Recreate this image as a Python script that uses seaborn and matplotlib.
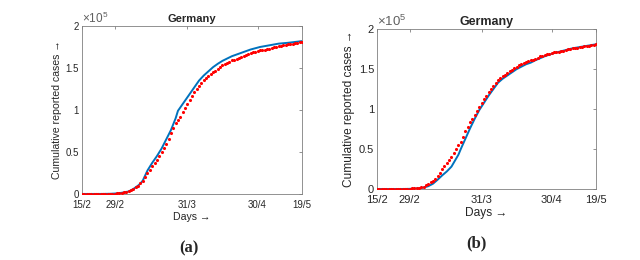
import matplotlib
matplotlib.use("Agg")
import matplotlib.pyplot as plt
import pandas as pd
import seaborn as sns

# Cumulative reported cases in Germany (units of 1e5), one value per day from 15/2 (day 0) to 19/5 (day 94)
reported = [0.0002, 0.0002, 0.0002, 0.0002, 0.0002, 0.0002, 0.0002, 0.0002, 0.0003, 0.0005,
            0.001, 0.0015, 0.002, 0.003, 0.005, 0.007, 0.010, 0.014, 0.019, 0.024,
            0.030, 0.045, 0.065, 0.082, 0.100, 0.125, 0.160, 0.200, 0.250, 0.290,
            0.330, 0.365, 0.400, 0.450, 0.500, 0.545, 0.590, 0.655, 0.720, 0.780,
            0.840, 0.880, 0.920, 0.970, 1.020, 1.070, 1.120, 1.165, 1.210, 1.250,
            1.290, 1.325, 1.360, 1.385, 1.410, 1.430, 1.450, 1.470, 1.490, 1.510,
            1.530, 1.545, 1.560, 1.575, 1.590, 1.600, 1.610, 1.620, 1.630, 1.645,
            1.660, 1.670, 1.680, 1.685, 1.690, 1.700, 1.710, 1.715, 1.720, 1.725,
            1.730, 1.740, 1.750, 1.755, 1.760, 1.765, 1.770, 1.775, 1.780, 1.785,
            1.790, 1.795, 1.800, 1.805, 1.810]
days = list(range(len(reported)))

# Model fit (a)
days_a = [0, 4, 8, 12, 14, 16, 18, 20, 22, 24, 25, 26, 27, 28, 30, 32, 34, 36, 38, 40,
          41, 42, 44, 46, 48, 50, 52, 54, 56, 58, 60, 64, 68, 72, 76, 80, 84, 88, 94]
fit_a = [0.0002, 0.0002, 0.0003, 0.002, 0.005, 0.010, 0.019, 0.030, 0.060, 0.100,
         0.125, 0.16, 0.22, 0.28, 0.37, 0.45, 0.54, 0.65, 0.76, 0.90,
         0.99, 1.03, 1.11, 1.19, 1.27, 1.35, 1.41, 1.46, 1.51, 1.55,
         1.585, 1.64, 1.68, 1.72, 1.75, 1.77, 1.79, 1.80, 1.82]

# Model fit (b)
days_b = [0, 4, 8, 12, 14, 16, 18, 20, 22, 24, 26, 28, 30, 32, 34, 35, 36, 38, 40, 42,
          44, 46, 48, 50, 52, 54, 56, 58, 60, 62, 64, 66, 68, 70, 72, 74, 76, 80, 84, 88, 94]
fit_b = [0.0, 0.0, 0.0, 0.001, 0.002, 0.005, 0.010, 0.018, 0.035, 0.065,
         0.115, 0.17, 0.22, 0.28, 0.38, 0.43, 0.50, 0.63, 0.76, 0.88,
         0.99, 1.08, 1.17, 1.25, 1.33, 1.38, 1.42, 1.46, 1.50, 1.53,
         1.56, 1.58, 1.61, 1.635, 1.66, 1.68, 1.70, 1.73, 1.76, 1.78, 1.81]

tick_days = [0, 14, 45, 75, 94]
tick_labels = ['15/2', '29/2', '31/3', '30/4', '19/5']
y_ticks = [0, 0.5, 1, 1.5, 2]
y_labels = ['0', '0.5', '1', '1.5', '2']

sns.set_style("white")
plt.rcParams['font.family'] = ['Liberation Sans', 'DejaVu Sans']
plt.rcParams['mathtext.fontset'] = 'custom'
plt.rcParams['mathtext.rm'] = 'Liberation Sans'

df_obs = pd.DataFrame({'day': days, 'cases': reported})
df_a = pd.DataFrame({'day': days_a, 'cases': fit_a})
df_b = pd.DataFrame({'day': days_b, 'cases': fit_b})

fig = plt.figure(figsize=(6.4, 2.6), dpi=100)
ax_a = fig.add_axes([0.128, 0.254, 0.344, 0.646])
ax_b = fig.add_axes([0.589, 0.273, 0.342, 0.615])

grey = '#262626'
# (axes, fit data, tick font size, label font size)
for ax, df_fit, fs, lfs in [(ax_a, df_a, 7, 7.6), (ax_b, df_b, 8, 8.6)]:
    sns.lineplot(data=df_fit, x='day', y='cases', ax=ax, color='#0072BD', linewidth=1.4)
    sns.scatterplot(data=df_obs, x='day', y='cases', ax=ax, color='#ff0000', s=5,
                    linewidth=0, zorder=3)
    ax.set_xlim(0, 94)
    ax.set_ylim(0, 2)
    ax.set_xticks(tick_days)
    ax.set_xticklabels(tick_labels)
    ax.set_yticks(y_ticks)
    ax.set_yticklabels(y_labels)
    ax.tick_params(direction='in', length=2.5, width=0.6, top=True, right=True,
                   labelsize=fs, colors='#808080', labelcolor=grey, pad=2)
    ax.tick_params(axis='x', pad=4)
    for sp in ax.spines.values():
        sp.set_color('#808080')
        sp.set_linewidth(0.6)
    ax.set_xlabel('Days →', fontsize=lfs, color=grey, labelpad=2)
    ax.set_ylabel('Cumulative reported cases →', fontsize=lfs, color=grey, labelpad=3)
    ax.set_title('Germany', fontsize=fs + 1, fontweight='bold', pad=3)
    ax.text(0.0, 1.0, r'$\times10^5$', transform=ax.transAxes, fontsize=fs + 1.5,
            color='#606060', va='bottom', ha='left')

fig.text(0.295, 0.046, '(a)', fontsize=12, fontweight='bold', ha='center', va='center',
         family='Liberation Serif')
fig.text(0.744, 0.065, '(b)', fontsize=12, fontweight='bold', ha='center', va='center',
         family='Liberation Serif')

fig.savefig('out.png', dpi=100)
